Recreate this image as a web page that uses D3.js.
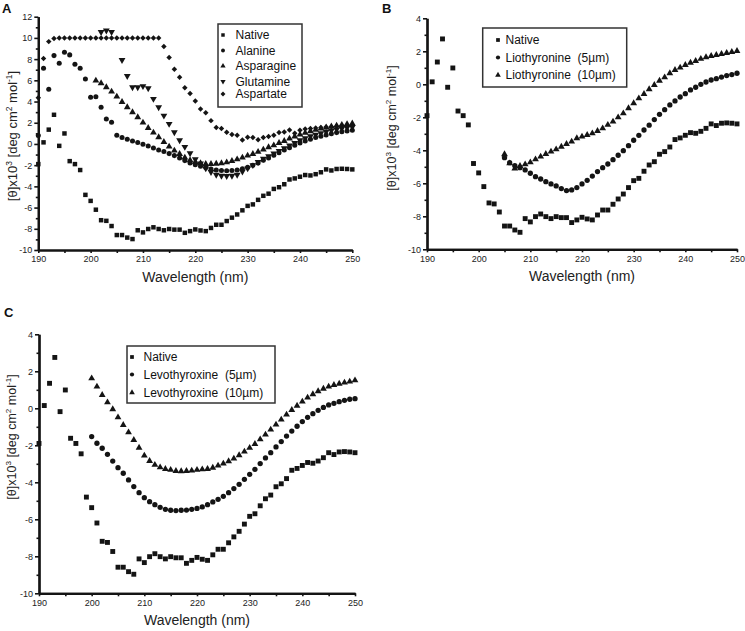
<!DOCTYPE html>
<html><head><meta charset="utf-8">
<script src="https://cdn.jsdelivr.net/npm/d3@7/dist/d3.min.js"></script>
<style>body{margin:0;background:#fff}svg{display:block;font-family:"Liberation Sans",Arial,sans-serif}</style>
</head><body><svg id="c" width="745" height="631"></svg>
<script>
// ---- data ----
const wavelengths = [190,191,192,193,194,195,196,197,198,199,200,201,202,203,204,205,206,207,208,209,210,211,212,213,214,215,216,217,218,219,220,221,222,223,224,225,226,227,228,229,230,231,232,233,234,235,236,237,238,239,240,241,242,243,244,245,246,247,248,249,250];
const xTicks = [190,200,210,220,230,240,250];
const yTicksA = [12,10,8,6,4,2,0,-2,-4,-6,-8,-10];
const yTicksBC = [4,2,0,-2,-4,-6,-8,-10];

// start wavelength + values (one per nm)
const native = [-1.9,0.15,1.35,2.75,-0.18,0.99,-1.62,-1.9,-2.46,-4.8,-5.37,-6.2,-7.19,-7.25,-7.74,-8.59,-8.59,-8.83,-8.97,-8.14,-8.34,-8.02,-7.86,-8.02,-8.14,-8.02,-8.08,-8.08,-8.38,-8.22,-8.06,-8.16,-8.22,-7.92,-7.62,-7.62,-7.27,-6.95,-6.65,-6.26,-5.84,-5.7,-5.27,-4.89,-4.69,-4.24,-4.08,-3.8,-3.35,-3.25,-3.09,-2.93,-2.97,-2.85,-2.67,-2.4,-2.5,-2.36,-2.34,-2.36,-2.4];
const alanine = [0.8,7.14,5.16,8.33,7.61,8.65,8.4,7.52,7.14,6.13,4.4,4.46,3.46,2.36,2.04,0.82,0.6,0.44,0.28,0.13,-0.03,-0.19,-0.38,-0.57,-0.72,-0.91,-1.1,-1.32,-1.57,-1.79,-1.95,-2.1,-2.23,-2.36,-2.45,-2.5,-2.52,-2.5,-2.45,-2.33,-2.2,-2.0,-1.79,-1.54,-1.32,-1.07,-0.82,-0.57,-0.35,-0.13,0.1,0.28,0.44,0.6,0.72,0.85,0.97,1.07,1.16,1.23,1.29];
const asparagineStart = 201;
const asparagine = [5.97,5.72,5.35,4.94,4.47,3.96,3.46,2.99,2.52,2.01,1.51,1.07,0.63,0.19,-0.25,-0.63,-0.94,-1.29,-1.54,-1.7,-1.82,-1.89,-1.89,-1.86,-1.82,-1.73,-1.6,-1.45,-1.29,-1.1,-0.94,-0.75,-0.53,-0.31,-0.13,0.09,0.28,0.5,0.7,0.88,1.05,1.2,1.33,1.45,1.55,1.65,1.73,1.8,1.87,1.93];
const glutamineA = {start:202, values:[10.55,10.7,10.55]};
const glutamineB = {start:206, values:[7.92,6.4,5.35,5.35,5.45,5.25,4.25,3.46,2.67,1.89,1.1,0.35,-0.28,-0.88,-1.45,-1.85,-2.3,-2.65,-2.9,-3.0,-3.02,-3.0,-2.9,-2.6,-2.3,-2.0,-1.7,-1.4,-1.15,-0.9,-0.65,-0.4,-0.15,0.1,0.35,0.55,0.72,0.88,1.02,1.15,1.27,1.37,1.46,1.53,1.6]};
const aspartate = [4.35,8.05,9.65,9.95,10,10,10,10,10,10,10,10,10,10,10,10,10,10,10,10,10,10,10,10,9.2,8.15,7.05,6.3,5.3,4.75,4.05,3.3,2.95,2.2,1.55,1.45,1.1,0.9,0.82,0.38,0.63,0.6,0.4,0.6,0.7,0.82,1.07,1.13,1.32,1.0,1.3,1.4,1.45,1.5,1.55,1.6,1.62,1.65,1.7,1.72,1.75];
const lio5Start = 205;
const lio5 = [-4.45,-4.75,-4.93,-5.05,-5.19,-5.39,-5.6,-5.74,-5.9,-6.04,-6.16,-6.32,-6.44,-6.4,-6.26,-6.04,-5.82,-5.56,-5.29,-5.05,-4.83,-4.57,-4.3,-4.02,-3.72,-3.39,-3.09,-2.77,-2.48,-2.14,-1.82,-1.54,-1.25,-1.01,-0.77,-0.57,-0.34,-0.18,0.0,0.14,0.26,0.34,0.44,0.53,0.59,0.67];
const lio10Start = 205;
const lio10 = [-4.24,-4.79,-5.1,-4.95,-4.85,-4.73,-4.55,-4.38,-4.22,-4.08,-3.94,-3.78,-3.62,-3.47,-3.27,-3.17,-3.07,-2.97,-2.83,-2.67,-2.46,-2.26,-2.0,-1.76,-1.45,-1.15,-0.85,-0.59,-0.3,-0.04,0.22,0.42,0.67,0.87,1.01,1.17,1.31,1.41,1.54,1.64,1.72,1.78,1.84,1.9,1.96,2.02];
const levo5Start = 200;
const levo5 = [-1.53,-1.89,-2.16,-2.49,-2.85,-3.21,-3.51,-3.87,-4.23,-4.56,-4.83,-5.05,-5.21,-5.35,-5.46,-5.51,-5.53,-5.51,-5.5,-5.46,-5.41,-5.33,-5.21,-5.06,-4.92,-4.76,-4.56,-4.34,-4.11,-3.84,-3.57,-3.3,-2.99,-2.68,-2.4,-2.09,-1.8,-1.5,-1.23,-0.97,-0.72,-0.49,-0.29,-0.11,0.05,0.18,0.27,0.36,0.43,0.49,0.52];
const levo10Start = 200;
const levo10 = [1.62,1.17,0.72,0.32,-0.05,-0.49,-0.9,-1.3,-1.71,-2.13,-2.56,-2.85,-3.06,-3.19,-3.28,-3.33,-3.39,-3.4,-3.39,-3.37,-3.33,-3.3,-3.28,-3.21,-3.1,-2.99,-2.86,-2.72,-2.54,-2.34,-2.14,-1.93,-1.68,-1.42,-1.15,-0.88,-0.61,-0.34,-0.09,0.14,0.36,0.58,0.76,0.92,1.06,1.17,1.26,1.33,1.39,1.44,1.51];

const legendA = ["Native","Alanine","Asparagine","Glutamine","Aspartate"];
const legendB = ["Native","Liothyronine  (5µm)","Liothyronine  (10µm)"];
const legendC = ["Native","Levothyroxine  (5µm)","Levothyroxine  (10µm)"];

// ---- drawing ----
const svg = d3.select("#c");
const INK = "#141414";

function pts(start, values){
  const i0 = wavelengths.indexOf(start);
  return values.map((v,i)=>({x:wavelengths[i0+i], y:v}));
}

function shape(kind, size){
  if(kind==="square") return {d:d3.symbol(d3.symbolSquare, size)(), rot:0};
  if(kind==="circle") return {d:d3.symbol(d3.symbolCircle, size)(), rot:0};
  if(kind==="triangle") return {d:d3.symbol(d3.symbolTriangle, size)(), rot:0};
  if(kind==="down") return {d:d3.symbol(d3.symbolTriangle, size)(), rot:180};
  if(kind==="diamond") return {d:d3.symbol(d3.symbolSquare, size)(), rot:45};
}

function panel(cfg){
  const g = svg.append("g");
  const x = d3.scaleLinear().domain([190,250]).range([cfg.x0,cfg.x1]);
  const y = d3.scaleLinear().domain([cfg.ymin,cfg.ymax]).range([cfg.yb,cfg.yt]);

  cfg.series.forEach(s=>{
    const sh = shape(s.kind, s.size);
    g.append("g").selectAll("path").data(s.data).join("path")
      .attr("d", sh.d)
      .attr("transform", d=>`translate(${x(d.x)},${y(d.y)}) rotate(${sh.rot})`)
      .attr("fill", INK);
  });

  const major = cfg.yTicks;
  const minor = d3.range(cfg.ymin, cfg.ymax+0.01, 1).filter(v=>!major.includes(v));
  g.append("g").attr("transform",`translate(${cfg.x0},0)`)
    .call(d3.axisLeft(y).tickValues(major).tickSize(4).tickSizeOuter(0).tickPadding(2).tickFormat(d=>String(d)));
  g.append("g").attr("transform",`translate(${cfg.x0},0)`)
    .call(d3.axisLeft(y).tickValues(minor).tickSize(2.5).tickSizeOuter(0).tickFormat(""));
  g.append("g").attr("transform",`translate(0,${cfg.yb})`)
    .call(d3.axisBottom(x).tickValues(xTicks).tickSize(3).tickSizeOuter(0).tickPadding(3).tickFormat(d=>String(d)));
  g.append("g").attr("transform",`translate(0,${cfg.yb})`)
    .call(d3.axisBottom(x).tickValues([195,205,215,225,235,245]).tickSize(3).tickSizeOuter(0).tickFormat(""));
  g.selectAll(".domain").attr("stroke",INK).attr("stroke-width",2.2);
  g.selectAll(".tick line").attr("stroke",INK).attr("stroke-width",1.6);
  g.selectAll(".tick text").attr("fill","#222").style("font-size","9px").style("font-family","Liberation Sans, Arial, sans-serif");

  g.append("text").attr("x",(cfg.x0+cfg.x1)/2).attr("y",cfg.yb+32)
    .attr("text-anchor","middle").attr("fill","#222").style("font-size","14px").text("Wavelength (nm)");
  const yt = g.append("text").attr("transform",`translate(${cfg.ytx},${cfg.yty}) rotate(-90)`)
    .attr("text-anchor","middle").attr("fill","#222").style("font-size",cfg.ytfs+"px");
  yt.append("tspan").text("[θ]x10");
  yt.append("tspan").attr("dy",-5).style("font-size",(cfg.ytfs*0.65)+"px").text("3");
  yt.append("tspan").attr("dy",5).text(" [deg cm");
  yt.append("tspan").attr("dy",-5).style("font-size",(cfg.ytfs*0.65)+"px").text("2");
  yt.append("tspan").attr("dy",5).text(" mol");
  yt.append("tspan").attr("dy",-5).style("font-size",(cfg.ytfs*0.65)+"px").text("-1");
  yt.append("tspan").attr("dy",5).text("]");

  g.append("text").attr("x",cfg.lx).attr("y",cfg.ly).style("font-size","13px").style("font-weight","bold").attr("fill","#111").text(cfg.letter);

  const L = cfg.legend;
  g.append("rect").attr("x",L.x).attr("y",L.y).attr("width",L.w).attr("height",L.h)
    .attr("fill","#fff").attr("stroke","#333").attr("stroke-width",1.5);
  L.names.forEach((n,i)=>{
    const sh = shape(L.kinds[i], L.symSize);
    g.append("path").attr("d",sh.d).attr("transform",`translate(${L.sx},${L.rows[i]}) rotate(${sh.rot})`).attr("fill",INK);
    g.append("text").attr("x",L.tx).attr("y",L.rows[i]).attr("dy","0.36em")
      .style("font-size",L.fs+"px").attr("fill","#111").style("white-space","pre").text(n);
  });
}

panel({
  x0:38.3, x1:352.3, yt:16.7, yb:250, ymin:-10, ymax:12, yTicks:yTicksA,
  ytx:16.5, yty:136, ytfs:13, letter:"A", lx:2, ly:13,
  series:[
    {kind:"square", size:20, data:pts(190,native)},
    {kind:"circle", size:20, data:pts(190,alanine)},
    {kind:"triangle", size:20, data:pts(asparagineStart,asparagine)},
    {kind:"down", size:20, data:pts(glutamineA.start,glutamineA.values).concat(pts(glutamineB.start,glutamineB.values))},
    {kind:"diamond", size:15, data:pts(190,aspartate)}
  ],
  legend:{x:218,y:24,w:84,h:83,names:legendA,kinds:["square","circle","triangle","down","diamond"],
    rows:[35,50.5,66,81.5,94],sx:223,tx:235.5,fs:12,symSize:12}
});

panel({
  x0:427, x1:737, yt:18.3, yb:249.3, ymin:-10, ymax:4, yTicks:yTicksBC,
  ytx:396, yty:128, ytfs:12.5, letter:"B", lx:382, ly:13,
  series:[
    {kind:"square", size:24, data:pts(190,native)},
    {kind:"circle", size:22, data:pts(lio5Start,lio5)},
    {kind:"triangle", size:20, data:pts(lio10Start,lio10)}
  ],
  legend:{x:482.7,y:28,w:144,h:59,names:legendB,kinds:["square","circle","triangle"],
    rows:[40,57.5,75],sx:498,tx:505.5,fs:12,symSize:14}
});

panel({
  x0:39, x1:355, yt:334.3, yb:593.3, ymin:-10, ymax:4, yTicks:yTicksBC,
  ytx:15.5, yty:437, ytfs:12.5, letter:"C", lx:4, ly:317,
  series:[
    {kind:"square", size:24, data:pts(190,native)},
    {kind:"circle", size:22, data:pts(levo5Start,levo5)},
    {kind:"triangle", size:20, data:pts(levo10Start,levo10)}
  ],
  legend:{x:127,y:346,w:148,h:57,names:legendC,kinds:["square","circle","triangle"],
    rows:[357,374.5,392.5],sx:132,tx:143.5,fs:12,symSize:14}
});
</script></body></html>
